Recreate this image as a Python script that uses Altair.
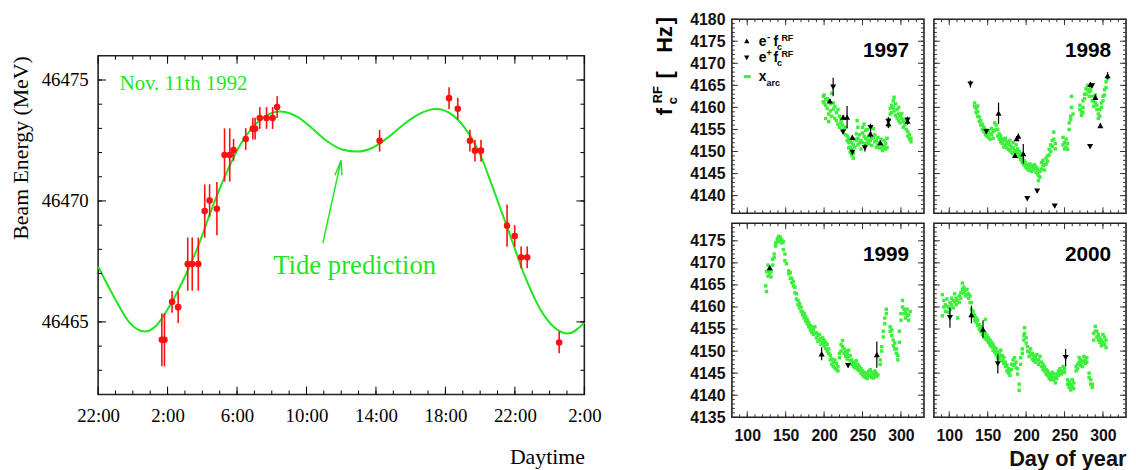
import altair as alt
import pandas as pd

# ---------------- Left panel data (Nov. 11th 1992) ----------------
hours = [1.67, 1.82, 2.26, 2.61, 3.16, 3.42, 3.77, 4.14, 4.42, 4.84, 5.28, 5.58, 5.80, 6.50,
         6.91, 7.04, 7.31, 7.70, 8.05, 8.31, 14.21, 18.21, 18.71, 19.41, 19.70, 20.05,
         21.55, 21.99, 22.36, 22.71, 24.55]
energy = [46464.26, 46464.26, 46465.83, 46465.61, 46467.39, 46467.39, 46467.39, 46469.58,
          46470.02, 46469.68, 46471.90, 46471.90, 46472.11, 46472.56, 46472.99, 46472.99,
          46473.43, 46473.43, 46473.43, 46473.88, 46472.49, 46474.25, 46473.81, 46472.49,
          46472.08, 46472.08, 46468.98, 46468.55, 46467.67, 46467.67, 46464.15]
energy_err = [1.09, 1.09, 0.45, 0.65, 1.1, 1.1, 1.1, 1.1, 0.67, 1.1, 1.1, 1.1, 0.45, 0.45,
              0.45, 0.45, 0.45, 0.45, 0.45, 0.45, 0.45, 0.45, 0.45, 0.45, 0.45, 0.45,
              0.87, 0.45, 0.45, 0.45, 0.45]
tide_hours = [-2.0, -1.06, -0.19, 0.69, 1.34, 2.0, 2.87, 3.75, 4.62, 5.49, 6.37, 7.24, 8.44,
              9.43, 10.30, 11.17, 12.05, 12.92, 13.80, 14.67, 15.54, 16.42, 17.47, 18.38,
              19.04, 19.91, 20.79, 21.66, 22.54, 23.41, 24.28, 25.05, 26.0]
tide_energy = [46467.29, 46466.0, 46464.97, 46464.6, 46464.84, 46465.52, 46466.68, 46468.11,
               46469.82, 46471.32, 46472.54, 46473.29, 46473.70, 46473.5, 46473.02, 46472.48,
               46472.13, 46472.04, 46472.2, 46472.61, 46473.13, 46473.57, 46473.8, 46473.57,
               46473.09, 46472.07, 46470.43, 46468.72, 46466.95, 46465.59, 46464.77,
               46464.52, 46464.97]
hour_ticks = [-2, 2, 6, 10, 14, 18, 22, 26]
energy_ticks = [46465, 46470, 46475]

# ---------------- Right panels data ----------------
arc_1997 = [(199,4162.5),(199,4161.3),(200,4161.0),(200,4162.8),(202,4160.5),(202,4161.8),(202,4157.5),
    (204,4162.0),(204,4159.8),(206,4161.5),(206,4158.5),(206,4156.8),(208,4160.8),(208,4159.2),
    (210,4163.2),(210,4158.0),(212,4161.0),(212,4159.6),(214,4160.2),(214,4157.5),(216,4158.8),
    (216,4157.0),(218,4159.5),(218,4156.2),(220,4158.0),(220,4155.5),(222,4157.2),(222,4156.5),
    (224,4156.0),(224,4154.8),(226,4157.5),(226,4155.2),(228,4155.5),(228,4153.8),(230,4153.5),
    (230,4152.5),(232,4152.0),(232,4150.8),(232,4153.0),(234,4151.0),(234,4149.8),(234,4152.5),
    (236,4150.5),(236,4149.2),(236,4152.0),(238,4149.5),(238,4148.5),(238,4151.5),(240,4151.0),
    (240,4152.8),(242,4154.0),(242,4152.5),(243,4157.0),(244,4155.5),(244,4153.0),(244,4151.5),
    (246,4153.8),(246,4152.0),(248,4152.5),(248,4150.6),(250,4155.5),(250,4154.2),(250,4152.0),
    (252,4156.2),(252,4153.5),(254,4154.8),(254,4153.0),(254,4151.8),(256,4155.0),(256,4152.6),
    (258,4153.5),(258,4151.8),(260,4154.0),(260,4152.5),(262,4153.0),(262,4151.4),(264,4155.2),
    (264,4153.2),(266,4153.8),(266,4152.2),(268,4152.5),(268,4151.0),(270,4153.2),(270,4151.5),
    (272,4152.0),(272,4150.8),(274,4152.8),(274,4151.6),(276,4151.0),(276,4150.2),(278,4152.5),
    (278,4151.2),(280,4151.8),(280,4150.6),(282,4153.0),(282,4150.9),(284,4155.8),(284,4157.2),
    (286,4158.5),(286,4159.8),(288,4160.5),(288,4158.8),(290,4161.5),(290,4160.0),(291,4162.3),
    (291,4159.2),(293,4160.8),(293,4158.2),(295,4159.5),(295,4157.6),(297,4158.5),(297,4157.0),
    (297,4160.0),(299,4158.0),(299,4156.5),(301,4157.5),(301,4158.6),(303,4156.8),(303,4155.5),
    (305,4157.2),(305,4156.0),(307,4155.0),(309,4153.5),(309,4154.5),(311,4152.8),(311,4153.8),
    (313,4152.2),(313,4153.0)]
arc_1998 = [(133,4161.0),(133,4160.2),(135,4159.8),(135,4158.8),(137,4159.0),(137,4158.0),(137,4160.3),
    (139,4157.8),(139,4156.8),(141,4157.0),(141,4156.0),(143,4156.2),(143,4155.0),(145,4155.5),
    (145,4154.5),(147,4155.0),(147,4153.8),(149,4154.2),(149,4153.5),(151,4154.8),(151,4153.2),
    (153,4154.0),(153,4152.8),(155,4155.2),(155,4153.8),(157,4154.5),(157,4153.0),(159,4154.8),
    (159,4156.5),(161,4156.0),(161,4155.0),(163,4155.0),(163,4153.5),(165,4154.0),(165,4152.8),
    (167,4153.5),(167,4152.2),(169,4152.8),(169,4151.8),(171,4152.5),(171,4151.0),(173,4153.0),
    (173,4151.5),(175,4152.2),(175,4150.8),(177,4151.8),(177,4150.5),(179,4151.5),(179,4150.2),
    (179,4152.5),(181,4151.0),(181,4149.8),(183,4150.8),(183,4149.5),(183,4152.0),(185,4150.2),
    (185,4149.2),(187,4151.5),(187,4150.0),(189,4150.6),(189,4149.4),(191,4150.0),(191,4148.8),
    (193,4149.5),(193,4148.2),(195,4148.8),(195,4147.5),(197,4148.0),(197,4147.0),(199,4147.5),
    (199,4146.5),(201,4147.0),(201,4146.2),(203,4146.8),(203,4145.8),(205,4147.2),(205,4146.0),
    (207,4146.5),(207,4145.5),(209,4146.8),(209,4145.8),(211,4147.0),(211,4146.2),(213,4146.5),
    (213,4145.3),(215,4146.0),(215,4145.0),(216,4144.5),(216,4143.4),(218,4145.5),(218,4144.2),
    (220,4147.5),(220,4146.0),(222,4148.0),(222,4146.8),(224,4147.0),(224,4145.8),(226,4148.5),
    (226,4147.2),(228,4149.0),(228,4147.8),(230,4150.5),(230,4149.2),(232,4151.5),(232,4150.0),
    (234,4152.5),(234,4151.2),(236,4154.4),(236,4152.8),(238,4151.8),(238,4150.6),(248,4153.2),
    (248,4151.5),(250,4152.0),(250,4150.6),(252,4151.0),(252,4152.8),(254,4150.5),(254,4151.8),
    (256,4156.5),(256,4155.0),(258,4158.0),(258,4157.2),(259,4160.0),(259,4162.5),(261,4158.5),
    (270,4160.5),(270,4159.5),(272,4159.0),(272,4158.2),(274,4160.0),(274,4158.8),(274,4161.5),
    (276,4162.0),(276,4163.0),(278,4164.2),(278,4163.0),(280,4165.0),(280,4164.0),(282,4163.5),
    (282,4162.5),(284,4164.5),(284,4163.8),(286,4162.5),(286,4161.5),(288,4161.5),(288,4160.2),
    (290,4162.8),(290,4161.0),(292,4160.5),(292,4159.5),(294,4158.5),(294,4157.5),(296,4159.5),
    (296,4158.0),(298,4161.0),(298,4160.0),(300,4162.5),(300,4161.5),(302,4164.0),(302,4162.8),
    (304,4165.8),(304,4164.5),(306,4166.5)]
arc_1999 = [(124,4164.8),(125,4163.5),(125,4168.0),(127,4167.0),(127,4169.5),(129,4168.2),(129,4167.5),
    (131,4168.0),(131,4166.8),(133,4169.5),(133,4170.8),(135,4172.0),(135,4171.2),(137,4173.8),
    (137,4174.5),(139,4175.5),(139,4174.8),(141,4176.0),(141,4175.2),(143,4175.8),(143,4174.8),
    (145,4175.2),(145,4174.5),(147,4174.8),(147,4173.0),(149,4172.0),(149,4170.5),(151,4169.8),
    (154,4168.2),(154,4167.5),(156,4167.8),(156,4166.5),(158,4166.5),(158,4165.5),(160,4165.8),
    (160,4164.8),(162,4164.5),(162,4163.2),(164,4163.0),(164,4161.8),(166,4161.5),(166,4160.5),
    (168,4160.8),(168,4159.8),(170,4160.0),(170,4159.0),(172,4159.0),(172,4158.2),(174,4158.5),
    (174,4157.5),(176,4157.8),(176,4156.8),(178,4157.2),(178,4156.2),(180,4156.5),(180,4155.5),
    (182,4155.8),(182,4154.8),(184,4155.5),(184,4154.2),(186,4154.8),(186,4153.8),(188,4155.5),
    (188,4154.0),(190,4154.2),(190,4153.0),(192,4153.5),(192,4152.2),(194,4153.8),(194,4152.5),
    (196,4152.8),(196,4151.5),(198,4153.0),(198,4152.0),(200,4152.5),(200,4151.2),(202,4152.0),
    (202,4150.6),(204,4151.5),(204,4150.0),(206,4150.5),(206,4149.5),(208,4149.0),(208,4148.0),
    (210,4148.2),(210,4147.0),(212,4147.5),(212,4146.5),(214,4148.0),(214,4146.2),(216,4147.2),
    (216,4145.8),(218,4146.5),(218,4145.5),(220,4149.5),(220,4148.5),(222,4151.5),(222,4150.0),
    (224,4152.4),(224,4151.0),(226,4150.5),(226,4149.5),(228,4150.0),(228,4148.8),(230,4149.5),
    (230,4148.2),(232,4150.2),(232,4148.8),(234,4149.0),(234,4147.8),(236,4148.0),(236,4147.0),
    (238,4147.5),(238,4146.6),(240,4147.2),(240,4146.2),(242,4147.8),(242,4146.5),(244,4147.0),
    (244,4145.8),(246,4146.5),(246,4145.5),(248,4146.0),(248,4145.0),(250,4145.5),(250,4144.6),
    (252,4145.2),(252,4144.2),(254,4145.0),(254,4144.0),(256,4144.8),(256,4143.8),(258,4145.4),
    (258,4144.5),(260,4145.8),(260,4144.4),(262,4145.2),(262,4144.0),(264,4144.8),(264,4143.9),
    (266,4145.5),(266,4144.6),(268,4145.0),(268,4144.2),(270,4144.6),(273,4148.0),(273,4147.0),
    (275,4151.0),(275,4150.0),(277,4154.5),(277,4153.2),(279,4157.5),(279,4156.2),(281,4159.5),
    (281,4158.5),(286,4155.5),(286,4154.5),(288,4154.8),(288,4153.5),(290,4152.5),(290,4151.2),
    (292,4151.8),(292,4150.5),(294,4150.5),(294,4149.5),(296,4149.0),(296,4148.0),(298,4152.0),
    (298,4154.5),(300,4157.0),(300,4158.5),(302,4161.5),(302,4160.0),(304,4159.5),(304,4158.5),
    (306,4158.8),(306,4157.5),(308,4159.5),(308,4158.0),(310,4158.2),(310,4157.0),(312,4159.0)]
arc_2000 = [(91,4162.8),(91,4158.0),(93,4161.5),(93,4160.0),(95,4160.5),(95,4159.0),(97,4161.8),
    (97,4160.2),(99,4160.0),(99,4158.8),(101,4161.0),(101,4159.5),(103,4162.0),(103,4160.5),
    (105,4161.5),(105,4159.8),(107,4163.0),(107,4161.2),(109,4162.0),(109,4160.5),(111,4161.5),
    (111,4157.5),(113,4162.5),(113,4161.0),(115,4163.2),(115,4162.0),(117,4165.4),(117,4164.0),
    (119,4164.5),(119,4163.2),(121,4163.8),(121,4162.5),(123,4164.0),(123,4162.8),(125,4163.0),
    (125,4162.0),(127,4162.5),(127,4161.0),(129,4161.0),(129,4159.5),(131,4159.0),(131,4157.8),
    (133,4158.2),(133,4157.0),(135,4157.5),(135,4156.5),(137,4157.0),(137,4155.8),(139,4156.0),
    (139,4155.0),(141,4155.5),(141,4154.5),(143,4155.0),(143,4153.8),(145,4154.2),(145,4153.2),
    (147,4154.0),(147,4152.8),(147,4157.2),(149,4153.5),(149,4152.5),(151,4153.0),(151,4152.0),
    (153,4152.5),(153,4151.4),(155,4152.0),(155,4151.0),(157,4151.5),(157,4150.2),(159,4150.8),
    (159,4149.8),(161,4150.5),(161,4149.2),(163,4149.8),(163,4148.5),(165,4149.5),(165,4148.2),
    (167,4150.2),(167,4148.8),(169,4149.0),(169,4147.8),(171,4148.5),(171,4147.2),(173,4147.5),
    (173,4146.5),(175,4146.8),(175,4145.5),(177,4146.0),(177,4145.0),(179,4145.5),(179,4144.5),
    (181,4147.0),(181,4145.8),(183,4148.0),(183,4146.8),(185,4148.5),(185,4147.0),(187,4147.5),
    (187,4146.2),(189,4146.0),(189,4144.8),(191,4142.5),(191,4141.1),(193,4147.0),(193,4148.5),
    (195,4150.5),(195,4149.5),(197,4153.5),(197,4152.5),(198,4155.3),(198,4154.0),(200,4153.0),
    (200,4151.8),(202,4151.0),(202,4150.0),(204,4149.8),(204,4148.8),(206,4150.5),(206,4149.2),
    (208,4149.5),(208,4148.2),(210,4149.0),(210,4147.8),(212,4148.5),(212,4147.5),(214,4149.2),
    (214,4148.0),(216,4148.0),(216,4147.0),(218,4148.8),(218,4147.5),(220,4147.5),(220,4146.5),
    (222,4147.0),(222,4145.8),(224,4146.5),(224,4145.5),(226,4145.8),(226,4144.8),(228,4145.5),
    (228,4144.5),(230,4145.0),(230,4143.8),(232,4144.5),(232,4143.5),(234,4145.2),(234,4144.0),
    (236,4144.8),(236,4143.5),(238,4144.0),(238,4142.8),(240,4144.8),(240,4143.8),(242,4145.5),
    (242,4144.5),(244,4146.0),(244,4145.0),(246,4145.5),(246,4144.8),(248,4146.5),(248,4145.5),
    (250,4146.0),(250,4145.2),(254,4143.5),(254,4142.5),(256,4143.0),(256,4141.8),(258,4142.5),
    (258,4141.2),(260,4143.5),(260,4142.0),(262,4142.8),(262,4141.5),(265,4146.5),(265,4145.5),
    (267,4147.0),(267,4146.0),(269,4148.5),(269,4147.5),(271,4148.0),(271,4146.8),(273,4147.5),
    (273,4146.5),(275,4148.8),(275,4147.8),(277,4148.0),(277,4147.2),(279,4148.5),(279,4147.5),
    (282,4145.0),(282,4144.0),(284,4143.5),(284,4142.5),(286,4142.5),(286,4141.8),(288,4154.0),
    (288,4152.5),(290,4155.6),(290,4154.5),(292,4154.5),(292,4153.2),(294,4153.8),(294,4152.5),
    (296,4153.0),(296,4152.0),(298,4152.5),(298,4151.2),(300,4153.8),(300,4152.0),(302,4153.2),
    (302,4151.5),(304,4152.5),(304,4150.8)]

# (day, f_c^RF, error)
eminus_1997 = [(207.5,4161.5,0.4),(224.7,4157.8,0.5),(229.9,4157.8,2.5),(236.8,4153.2,0.5),
               (260.4,4154.0,0.8),(273.3,4152.0,0.4),(283.7,4156.3,1.0),(308.6,4156.9,0.8)]
eplus_1997 = [(211.8,4164.6,2.1),(224.7,4154.4,0.5),(236.8,4149.8,0.5),(253.1,4150.8,0.8),
              (260.4,4155.4,0.9),(283.7,4156.8,1.0),(308.6,4157.1,0.8)]
eminus_1998 = [(164.1,4158.7,2.4),(189.9,4153.5,0.6),(187.7,4152.9,0.6),(185.6,4149.1,0.5),
               (196.3,4149.5,2.2),(283.7,4165.2,0.5),(290.1,4162.3,0.6),(296.6,4155.9,0.5),
               (306.0,4167.2,0.8)]
eplus_1998 = [(127.5,4165.3,0.8),(148.2,4154.5,0.5),(201.5,4139.3,0.4),(214.4,4141.0,0.4),
              (237.2,4137.6,0.4),(283.2,4151.1,0.4),(285.8,4164.9,0.5)]
eminus_1999 = [(129.2,4168.9,0.5),(196.8,4149.4,1.5),(268.6,4149.2,3.0)]
eplus_1999 = [(231.2,4146.7,0.4)]
eminus_2000 = [(128.8,4158.3,2.0),(143.9,4155.0,2.0)]
eplus_2000 = [(100.9,4157.6,2.3),(163.2,4147.1,2.2),(251.4,4148.5,2.0)]

day_ticks = [100, 150, 200, 250, 300]
freq_ticks_top = [4140, 4145, 4150, 4155, 4160, 4165, 4170, 4175, 4180]
freq_ticks_bottom = [4135, 4140, 4145, 4150, 4155, 4160, 4165, 4170, 4175]

# ---------------- styling ----------------
SERIF = "Liberation Serif"
SANS = "Liberation Sans"
GREEN = "#1ee61e"
DOT_GREEN = "#3bef3b"
RED = "#ff1010"

LW, LH = 491, 342
PW, PH = 194, 196


def rules_x(vals, scale, axis, y0, y1, color, width=1):
    df = pd.DataFrame({"v": vals})
    return alt.Chart(df).mark_rule(color=color, strokeWidth=width).encode(
        x=alt.X("v:Q", scale=scale, axis=axis), y=alt.value(y0), y2=alt.value(y1))


def rules_y(vals, scale, axis, x0, x1, color, width=1):
    df = pd.DataFrame({"v": vals})
    return alt.Chart(df).mark_rule(color=color, strokeWidth=width).encode(
        y=alt.Y("v:Q", scale=scale, axis=axis), x=alt.value(x0), x2=alt.value(x1))


def frame_ticks(xs, ys, xa, ya, xmaj, xmin, ymaj, ymin, W, H, lmaj, lmin, color):
    return [
        rules_x(xmaj, xs, xa, H, H - lmaj, color), rules_x(xmin, xs, xa, H, H - lmin, color),
        rules_x(xmaj, xs, xa, 0, lmaj, color), rules_x(xmin, xs, xa, 0, lmin, color),
        rules_y(ymaj, ys, ya, 0, lmaj, color), rules_y(ymin, ys, ya, 0, lmin, color),
        rules_y(ymaj, ys, ya, W, W - lmaj, color), rules_y(ymin, ys, ya, W, W - lmin, color),
    ]


def label(text, x, y, size, color="black", weight="bold", font=SANS, angle=0, align="left"):
    df = pd.DataFrame({"t": [text]})
    return alt.Chart(df).mark_text(
        text=text, font=font, fontSize=size, fontWeight=weight, color=color,
        angle=angle, align=align, baseline="alphabetic").encode(
        x=alt.value(x), y=alt.value(y))


# ---------------- left chart ----------------
hx = alt.Scale(domain=[-2, 26], nice=False, zero=False)
ey = alt.Scale(domain=[46462, 46476], nice=False, zero=False)

pts = pd.DataFrame({"h": hours, "e": energy, "lo": [e - d for e, d in zip(energy, energy_err)],
                    "hi": [e + d for e, d in zip(energy, energy_err)]})
tide = pd.DataFrame({"h": tide_hours, "e": tide_energy})

xaxis_left = alt.Axis(values=hour_ticks, labelExpr="(((datum.value % 24) + 24) % 24) + ':00'",
                      ticks=False, domain=False, grid=False, labelFont=SERIF, labelFontSize=19,
                      labelColor="black", labelPadding=12, labelFlush=False,
                      title="Daytime", titleFont=SERIF, titleFontSize=22, titleFontWeight="normal",
                      titleColor="black", titleAnchor="end", titlePadding=22)
yaxis_left = alt.Axis(values=energy_ticks, format="d", ticks=False, domain=False, grid=False,
                      labelFont=SERIF, labelFontSize=19, labelColor="black", labelPadding=10,
                      title="Beam Energy (MeV)", titleFont=SERIF, titleFontSize=22,
                      titleFontWeight="normal", titleColor="black", titleAnchor="end",
                      titlePadding=9)

X_L = dict(scale=hx, axis=xaxis_left)
Y_L = dict(scale=ey, axis=yaxis_left)

tide_line = alt.Chart(tide).mark_line(color=GREEN, strokeWidth=2, interpolate="monotone").encode(
    x=alt.X("h:Q", **X_L), y=alt.Y("e:Q", **Y_L))
err_left = alt.Chart(pts).mark_rule(color=RED, strokeWidth=1.6).encode(
    x=alt.X("h:Q", **X_L), y=alt.Y("lo:Q", **Y_L), y2="hi:Q")
dots_left = alt.Chart(pts).mark_circle(color=RED, size=44, opacity=1).encode(
    x=alt.X("h:Q", **X_L), y=alt.Y("e:Q", **Y_L))

ann = pd.DataFrame({"h": [-0.76, 8.08], "e": [46474.57, 46466.97],
                    "t": ["Nov. 11th 1992", "Tide prediction"], "s": [21, 27]})
ann_text = alt.Chart(ann).mark_text(font=SERIF, color=GREEN, align="left", baseline="alphabetic").encode(
    x=alt.X("h:Q", **X_L), y=alt.Y("e:Q", **Y_L), text="t:N",
    size=alt.Size("s:Q", scale=None, legend=None))

arrow = pd.DataFrame({"h": [10.94, 11.99, 11.99], "e": [46468.26, 46471.67, 46471.67],
                      "h2": [11.99, 11.64, 12.04], "e2": [46471.67, 46471.06, 46471.06]})
arrow_mark = alt.Chart(arrow).mark_rule(color=GREEN, strokeWidth=1.5).encode(
    x=alt.X("h:Q", **X_L), y=alt.Y("e:Q", **Y_L), x2="h2:Q", y2="e2:Q")

left_ticks = frame_ticks(hx, ey, xaxis_left, yaxis_left, hour_ticks, list(range(-1, 26)),
                         energy_ticks, list(range(46463, 46476)), LW, LH, 8, 4, "black")

left = alt.layer(tide_line, err_left, dots_left, ann_text, arrow_mark, *left_ticks).properties(
    width=LW, height=LH)

spacer = alt.Chart(pd.DataFrame({"a": [0]})).mark_point(opacity=0).encode(
    x=alt.value(0), y=alt.value(0)).properties(
    width=LW, height=34, view=alt.ViewBackground(stroke="transparent"))

left_block = alt.vconcat(spacer, left, spacing=0)

# ---------------- right panels ----------------
dx = alt.Scale(domain=[80, 330], nice=False, zero=False)


def marker_df(rows):
    return pd.DataFrame({"d": [r[0] for r in rows], "f": [r[1] for r in rows],
                         "lo": [r[1] - r[2] for r in rows], "hi": [r[1] + r[2] for r in rows]})


def panel(year, arc, em, ep, ydom, yticks, xlabels, ylabels, xtitle="", extra=()):
    ys = alt.Scale(domain=ydom, nice=False, zero=False)
    if xlabels:
        xa = alt.Axis(values=day_ticks, ticks=False, domain=False, grid=False, labelFont=SANS,
                      labelFontWeight="bold", labelFontSize=16, labelColor="#111",
                      labelPadding=10, title=xtitle, titleFont=SANS, titleFontSize=22,
                      titleFontWeight="bold", titleColor="#111", titleAnchor="end", titlePadding=6)
    else:
        xa = None
    if ylabels:
        ya = alt.Axis(values=yticks, format="d", ticks=False, domain=False, grid=False,
                      labelFont=SANS, labelFontWeight="bold", labelFontSize=16, labelColor="#111",
                      labelPadding=7, title="")
    else:
        ya = None
    XP = dict(scale=dx, axis=xa)
    YP = dict(scale=ys, axis=ya)
    arc_df = pd.DataFrame(arc, columns=["d", "f"])
    base = alt.Chart(arc_df).mark_square(size=12, color=DOT_GREEN, opacity=1).encode(
        x=alt.X("d:Q", **XP), y=alt.Y("f:Q", **YP))
    layers = [base]
    for rows, shape in ((em, "triangle-up"), (ep, "triangle-down")):
        if rows:
            mdf = marker_df(rows)
            layers.append(alt.Chart(mdf).mark_rule(color="black", strokeWidth=1.2).encode(
                x=alt.X("d:Q", **XP), y=alt.Y("lo:Q", **YP), y2="hi:Q"))
            layers.append(alt.Chart(mdf).mark_point(shape=shape, filled=True, size=38, color="black",
                                                    opacity=1).encode(
                x=alt.X("d:Q", **XP), y=alt.Y("f:Q", **YP)))
    layers.append(label(str(year), PW - 15, 38, 21, align="right"))
    yminor = list(range(int(ydom[0]) + 1, int(ydom[1])))
    layers += frame_ticks(dx, ys, xa, ya, day_ticks, list(range(90, 330, 10)), yticks, yminor,
                          PW, PH, 6, 3, "#333")
    layers += list(extra)
    return alt.layer(*layers).properties(width=PW, height=PH)


def sym(shape, x, y):
    return alt.Chart(pd.DataFrame({"a": [0]})).mark_point(
        shape=shape, filled=True, size=30, color="black", opacity=1).encode(
        x=alt.value(x), y=alt.value(y))


legend_and_title = [
    sym("triangle-up", 15, 22), sym("triangle-down", 15, 39),
    alt.Chart(pd.DataFrame({"a": [0]})).mark_rule(color=DOT_GREEN, strokeWidth=3).encode(
        x=alt.value(12), x2=alt.value(19), y=alt.value(58)),
    label("e", 27, 27, 14), label("-", 35.5, 21, 10), label("f", 42, 27, 14),
    label("c", 45.5, 31, 9), label("RF", 50, 22, 9),
    label("e", 27, 43, 14), label("+", 35, 37, 9), label("f", 42, 43, 14),
    label("c", 45.5, 47, 9), label("RF", 50, 38, 9),
    label("x", 27, 62, 14), label("arc", 35, 67, 9),
    # y title  f_c^RF [ Hz ]
    label("f", -60, 97, 22, angle=270), label("c", -55, 86, 13, angle=270),
    label("RF", -71, 85, 13, angle=270), label("[", -60, 60, 22, angle=270),
    label("Hz", -60, 34, 22, angle=270), label("]", -60, 5, 22, angle=270),
]

p97 = panel(1997, arc_1997, eminus_1997, eplus_1997, [4136, 4180], freq_ticks_top, False, True,
            extra=legend_and_title)
p98 = panel(1998, arc_1998, eminus_1998, eplus_1998, [4136, 4180], freq_ticks_top, False, False)
p99 = panel(1999, arc_1999, eminus_1999, eplus_1999, [4135, 4179], freq_ticks_bottom, True, True)
p00 = panel(2000, arc_2000, eminus_2000, eplus_2000, [4135, 4179], freq_ticks_bottom, True, False,
            xtitle="Day of year")

grid = alt.concat(p97, p98, p99, p00, columns=2, spacing={"row": 10, "column": 10}, bounds="flush")

chart = alt.hconcat(left_block, grid, spacing=49).properties(
    padding={"left": 0, "top": 0, "right": 0, "bottom": 0}
).configure_view(stroke="#222", strokeWidth=1.6)

chart.save("out.html", embed_options={"renderer": "svg", "actions": False})
